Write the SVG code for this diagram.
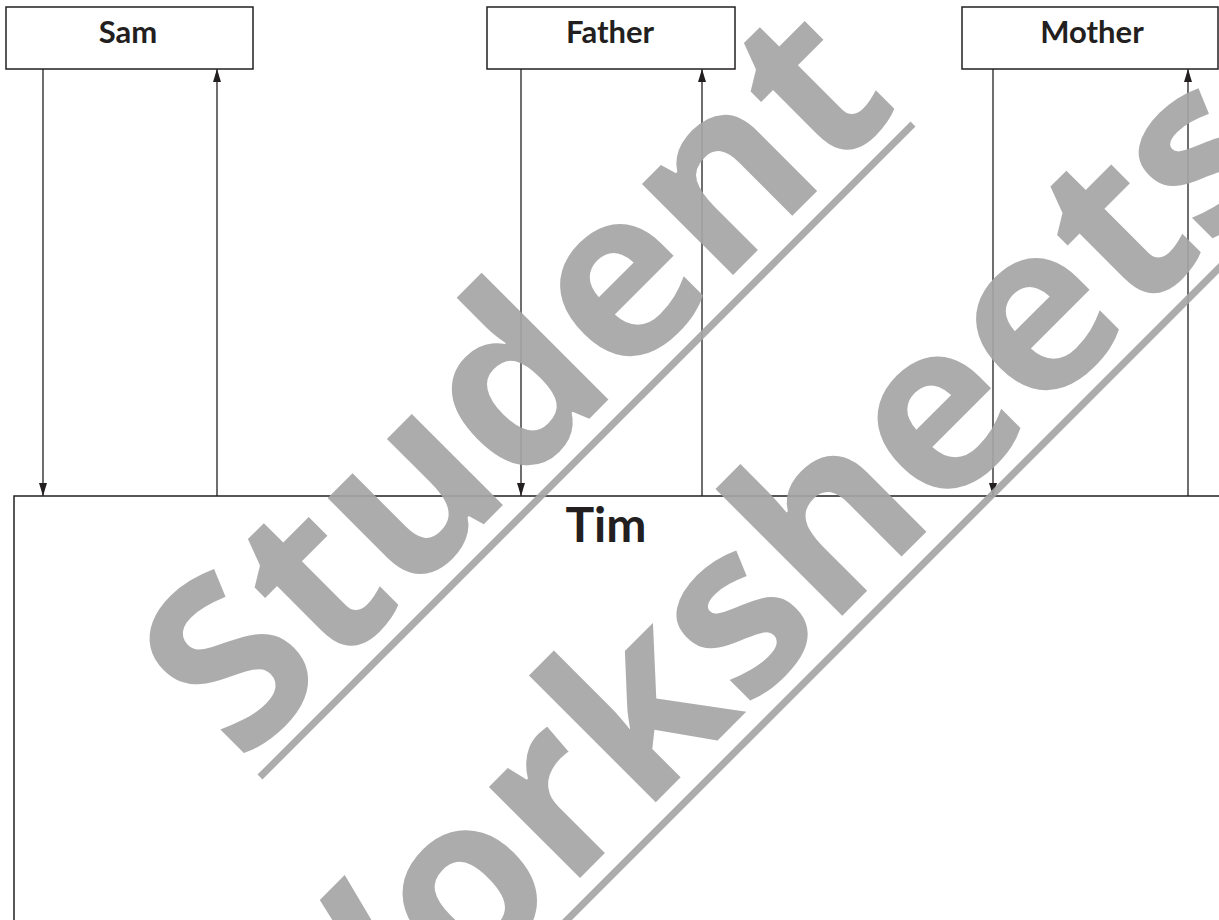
<svg xmlns="http://www.w3.org/2000/svg" width="1219" height="920" viewBox="0 0 1219 920">
<defs>
<style>
.box{fill:#fff;stroke:#231f20;stroke-width:1.5}
.lbl{font-family:Lato,"Open Sans","Liberation Sans",sans-serif;font-weight:700;fill:#231f20;text-anchor:middle}
.con{stroke:#231f20;stroke-width:1.3;fill:none}
.wm{font-family:"Open Sans","Liberation Sans",sans-serif;font-weight:700;font-size:236px;fill:#a6a6a6;text-anchor:middle}
.wml{stroke:#a6a6a6;stroke-width:7}
</style>
<marker id="arr" markerUnits="userSpaceOnUse" markerWidth="13" markerHeight="8" refX="13" refY="4" orient="auto" viewBox="0 0 13 8">
<path d="M0,0 L13,4 L0,8 Z" fill="#231f20"/>
</marker>
</defs>
<rect width="1219" height="920" fill="#fff"/>
<g id="tim">
<rect class="box" x="14" y="496" width="1300" height="600"/>
<text class="lbl" x="606" y="542" font-size="48">Tim</text>
</g>
<g id="sam">
<rect class="box" x="6" y="7" width="247" height="62"/>
<text class="lbl" x="128" y="43" font-size="31">Sam</text>
</g>
<g id="father">
<rect class="box" x="487" y="7" width="248" height="62"/>
<text class="lbl" x="610" y="43" font-size="31">Father</text>
</g>
<g id="mother">
<rect class="box" x="962" y="7" width="256" height="62"/>
<text class="lbl" x="1092" y="43" font-size="31">Mother</text>
</g>
<g id="connectors">
<line class="con" x1="43" y1="69" x2="43" y2="496" marker-end="url(#arr)"/>
<line class="con" x1="217" y1="496" x2="217" y2="69" marker-end="url(#arr)"/>
<line class="con" x1="521" y1="69" x2="521" y2="496" marker-end="url(#arr)"/>
<line class="con" x1="702" y1="496" x2="702" y2="69" marker-end="url(#arr)"/>
<line class="con" x1="993" y1="69" x2="993" y2="496" marker-end="url(#arr)"/>
<line class="con" x1="1188" y1="496" x2="1188" y2="69" marker-end="url(#arr)"/>
</g>
<g id="watermark" opacity="0.92">
<text class="wm" transform="translate(572,436) rotate(-45)">Student</text>
<line class="wml" x1="260" y1="777" x2="913" y2="124"/>
<text class="wm" transform="translate(797,661) rotate(-45)">Worksheets</text>
<line class="wml" x1="555" y1="932" x2="1230" y2="257"/>
</g>
</svg>
